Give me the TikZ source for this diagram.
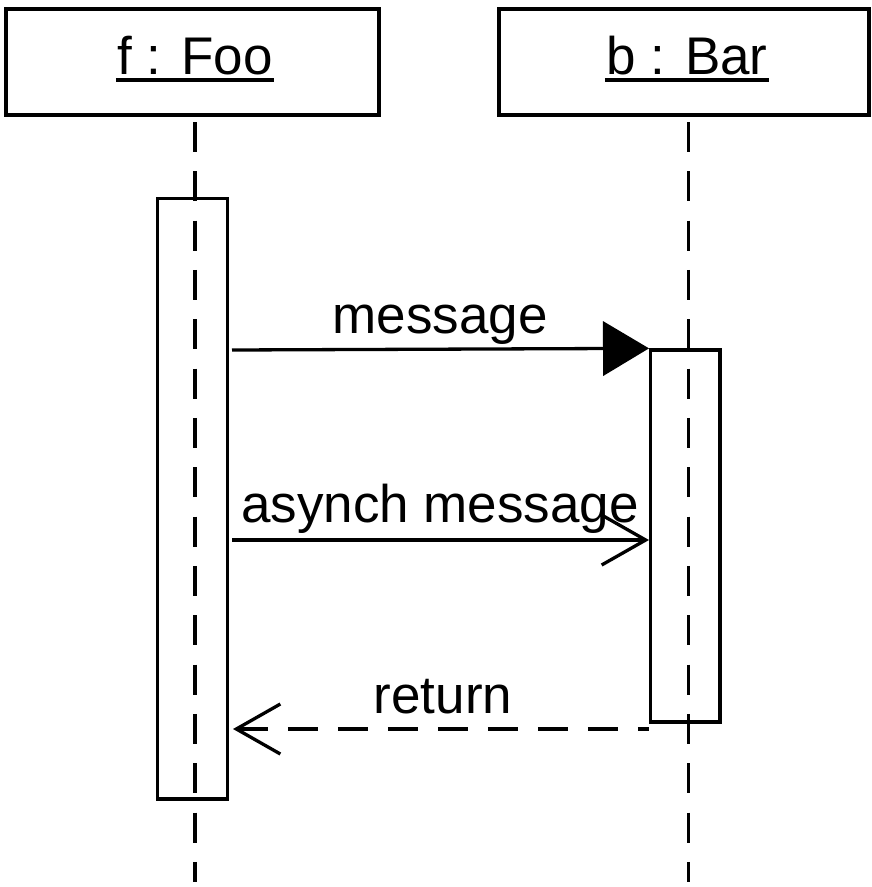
\documentclass[tikz,border=0pt]{standalone}
\usepackage{fontspec}
\setmainfont{Liberation Sans}
\usetikzlibrary{arrows.meta}
\begin{document}
\begin{tikzpicture}[x=1pt,y=-1pt,
  line width=3.3pt,
  objbox/.style={draw, rectangle, inner sep=0pt, line width=3.8pt},
  actbox/.style={draw, rectangle, inner sep=0pt},
  lbl/.style={anchor=base, inner sep=0pt, font=\fontsize{53}{60}\selectfont},
  lifeline/.style={dash pattern=on 30pt off 19.33pt},
  syncmsg/.style={-{Triangle[length=46pt,width=55pt,line width=0pt]}},
  asyncmsg/.style={-{Straight Barb[length=44pt,width=50pt]}},
  retmsg/.style={dash pattern=on 30pt off 20pt, {Straight Barb[length=44pt,width=50pt]}-}
]
\useasboundingbox (0,0) rectangle (872,887);

% object heads
\node[objbox, minimum width=372.4pt, minimum height=105.4pt] (foo) at (192.5,62) {};
\node[objbox, minimum width=369.4pt, minimum height=105.4pt] (bar) at (684,62) {};
\node[lbl] (tfoo) at (195,74) {f : Foo};
\node[lbl] (tbar) at (687,74) {b : Bar};
\draw[line width=3.4pt] ([yshift=-6pt]tfoo.base west) -- ([yshift=-6pt]tfoo.base east);
\draw[line width=3.4pt] ([yshift=-6pt]tbar.base west) -- ([yshift=-6pt]tbar.base east);

% activation bars
\node[actbox, minimum width=70.2pt, minimum height=600.7pt] (actf) at (192.6,498.7) {};
\node[actbox, minimum width=69.3pt, minimum height=372pt] (actb) at (685.3,536) {};

% lifelines
\coordinate (fhead) at (195,122);
\coordinate (ftail) at (195,882);
\coordinate (bhead) at (688.7,122);
\coordinate (btail) at (688.7,882);
\draw[lifeline] (fhead) -- (ftail);
\draw[lifeline] (bhead) -- (btail);

% messages
\coordinate (m0) at (232,350);
\coordinate (a0) at (232,540);
\coordinate (r0) at (233,729);
\draw[syncmsg] (m0) -- (actb.north west);
\draw[asyncmsg] (a0) -- (a0 -| actb.west);
\draw[retmsg] (r0) -- (r0 -| actb.west);

\node[lbl] (lmsg) at (440,333) {message};
\node[lbl] (lasy) at (440,522) {asynch message};
\node[lbl] (lret) at (443,713) {return};
\end{tikzpicture}
\end{document}
